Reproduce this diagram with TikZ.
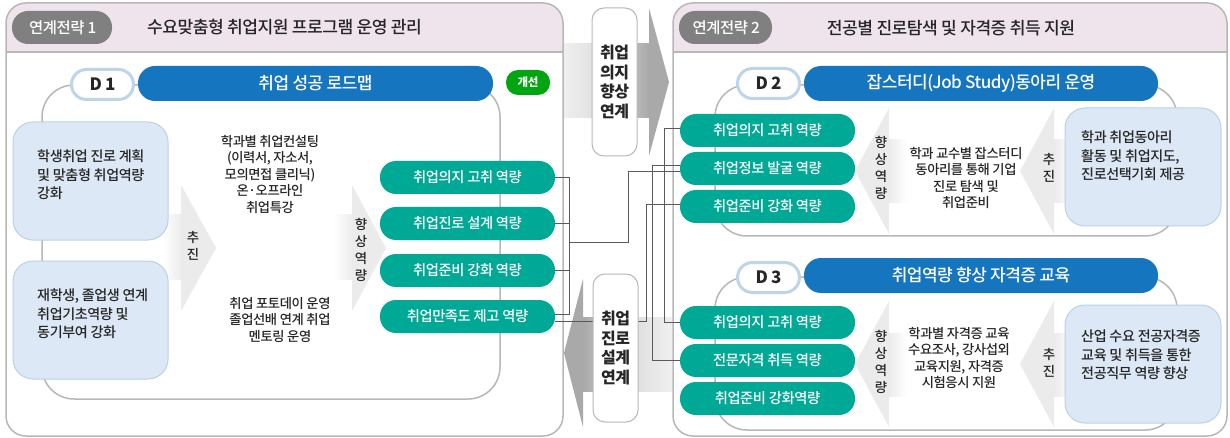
\documentclass[tikz,border=0pt]{standalone}
\usepackage{fontspec}
\setmainfont{Noto Sans CJK KR}[LetterSpace=-3]
\newfontfamily\medf{Noto Sans CJK KR Medium}[LetterSpace=-3]
\definecolor{edge}{HTML}{B7B7B7}
\definecolor{head}{HTML}{EFE4EC}
\definecolor{tag}{HTML}{808080}
\definecolor{blu}{HTML}{1575BE}
\definecolor{grn}{HTML}{00A896}
\definecolor{kwg}{HTML}{00A50F}
\definecolor{pale}{HTML}{DCE8F5}
\definecolor{paleb}{HTML}{B9D2E6}
\definecolor{ring}{HTML}{BCD5EA}
\definecolor{ink}{HTML}{262626}
\definecolor{wire}{HTML}{5A5A5A}
\definecolor{fadeg}{HTML}{EBEBEB}
\definecolor{bigg}{HTML}{A9A9A9}
\tikzset{
 panelbox/.style={draw=edge,line width=1.5pt,rounded corners=20pt},
 frameline/.style={draw=edge,line width=1.5pt,rounded corners=32pt},
 tagpill/.style={fill=tag,text=white,rounded corners=16pt,minimum width=#1,minimum height=33pt,inner sep=0pt,font=\medf\fontsize{15.4}{18}\selectfont},
 titletxt/.style={text=ink,inner sep=0pt,font=\medf\fontsize{17.1}{18}\selectfont},
 dpill/.style={draw=ring,fill=white,line width=3pt,rounded corners=15pt,minimum width=62pt,minimum height=30pt,inner sep=0pt,text=ink,font=\fontsize{17}{18}\selectfont\bfseries},
 bluepill/.style={fill=blu,text=white,rounded corners=17pt,minimum width=#1,minimum height=35pt,inner sep=0pt,font=\medf\fontsize{17}{18}\selectfont},
 grnpill/.style={fill=grn,text=white,rounded corners=16pt,minimum width=175pt,minimum height=33pt,inner sep=0pt,font=\medf\fontsize{14.3}{16}\selectfont},
 palebox/.style={fill=pale,draw=paleb,line width=1pt,rounded corners=20pt,minimum width=155pt,minimum height=118pt,inner sep=0pt},
 boxtxt/.style={text=ink,inner sep=0pt,align=left,anchor=west,font=\medf\fontsize{14.1}{18.5}\selectfont},
 midtxt/.style={text=ink,inner sep=0pt,align=center,font=\medf\fontsize{13.3}{16.5}\selectfont},
 vtxt/.style={text=ink,inner sep=0pt,align=center,font=\medf\fontsize{13.4}{17}\selectfont},
 linkbox/.style={draw=edge,fill=white,line width=1pt,rounded corners=12pt,minimum width=45pt,minimum height=148pt,inner sep=0pt,align=center,text=ink,font=\fontsize{16}{19.7}\selectfont\bfseries},
 conn/.style={draw=wire,line width=1pt},
}
\begin{document}
\begin{tikzpicture}[x=1pt,y=-1pt]
\useasboundingbox (0,0) rectangle (1230,438);
\fill[white] (0,0) rectangle (1230,438);
% panels
\begin{scope}
\clip[rounded corners=20pt] (6,3) rectangle (563,436);
\fill[head] (6,3) rectangle (563,52);
\end{scope}
\begin{scope}
\clip[rounded corners=20pt] (673,3) rectangle (1227,436);
\fill[head] (673,3) rectangle (1227,52);
\end{scope}
% big arrows
\shade[left color=black!6,right color=bigg,middle color=black!14] (563,44) rectangle (649,118);
\fill[bigg] (649,8) -- (669,82) -- (649,156) -- cycle;
\shade[left color=bigg,right color=black!6,middle color=black!14] (583,317) rectangle (672,391);
\fill[bigg] (583,279) -- (564,353) -- (583,427) -- cycle;
\draw[panelbox] (6,3) rectangle (563,436);
\draw[panelbox] (673,3) rectangle (1227,436);
\draw[draw=edge,line width=1.5pt] (6,52) -- (563,52);
\draw[draw=edge,line width=1.5pt] (673,52) -- (1227,52);
% frames
\draw[frameline] (42,85) rectangle (500,399);
\draw[frameline] (715,85) rectangle (1177,236);
\draw[frameline] (715,277) rectangle (1177,430);
% fading arrows left panel
\shade[left color=white,right color=fadeg] (163,215) rectangle (181.5,279);
\fill[fadeg] (181,185) -- (216,248) -- (181,311) -- cycle;
\shade[left color=white,right color=fadeg] (333,215) rectangle (352.5,279);
\fill[fadeg] (352,185) -- (386,248) -- (352,311) -- cycle;
% fading arrows right panel
\shade[left color=fadeg,right color=white] (888,140) rectangle (907,203);
\fill[fadeg] (889,108) -- (855,171) -- (889,234) -- cycle;
\shade[left color=fadeg,right color=white] (1053.5,140) rectangle (1075,203);
\fill[fadeg] (1054,108) -- (1020,171) -- (1054,234) -- cycle;
\shade[left color=fadeg,right color=white] (888,333) rectangle (907,396);
\fill[fadeg] (889,301) -- (855,364) -- (889,427) -- cycle;
\shade[left color=fadeg,right color=white] (1053.5,333) rectangle (1075,396);
\fill[fadeg] (1054,301) -- (1020,364) -- (1054,427) -- cycle;
% header tags
\node[tagpill=100pt] (t1) at (62,27.5) {\hspace{1.5pt}연계전략 1};
\node[tagpill=93pt] (t2) at (725.5,27.5) {\hspace{1.5pt}연계전략 2};
\node[titletxt] (h1) at (284.5,27) {수요맞춤형 취업지원 프로그램 운영 관리};
\node[titletxt] (h2) at (951,28) {전공별 진로탐색 및 자격증 취득 지원};
% D pills
\node[dpill] (d1) at (102.5,84.5) {D\hspace{3pt}1};
\node[dpill] (d2) at (768.5,83.5) {D\hspace{3pt}2};
\node[dpill] (d3) at (768.5,277.5) {D\hspace{3pt}3};
\node[bluepill=355pt] (b1) at (315.5,83.5) {취업 성공 로드맵};
\node[bluepill=354pt] (b2) at (981,83.5) {잡스터디(Job Study)동아리 운영};
\node[bluepill=354pt] (b3) at (981,275.5) {취업역량 향상 자격증 교육};
\node[fill=kwg,text=white,rounded corners=12pt,minimum width=44pt,minimum height=25pt,inner sep=0pt,font=\fontsize{11.5}{14}\selectfont\bfseries] (kw) at (528,82.5) {개선};
% green pills
\node[grnpill] (g1) at (467.5,177.5) {취업의지 고취 역량};
\node[grnpill] (g2) at (467.5,223.5) {취업진로 설계 역량};
\node[grnpill] (g3) at (467.5,270.5) {취업준비 강화 역량};
\node[grnpill] (g4) at (467.5,316.5) {취업만족도 제고 역량};
\node[grnpill] (e1) at (767.5,130.5) {취업의지 고취 역량};
\node[grnpill] (e2) at (767.5,168.5) {취업정보 발굴 역량};
\node[grnpill] (e3) at (767.5,206.5) {취업준비 강화 역량};
\node[grnpill] (f1) at (767.5,322.5) {취업의지 고취 역량};
\node[grnpill] (f2) at (767.5,360.5) {전문자격 취득 역량};
\node[grnpill] (f3) at (767.5,398.5) {취업준비 강화역량};
% connectors
\coordinate (busend) at (569,314.5);
\coordinate (busmid) at (569,242);
\coordinate (riser) at (628,172);
\coordinate (lane1) at (646.7,205);
\coordinate (lane2) at (652,166);
\coordinate (lane3) at (664,129);
\draw[conn] (g1.east) -| (busend);
\draw[conn] (g2.east) -- (g2.east -| busend);
\draw[conn] (g3.east) -- (g3.east -| busend);
\draw[conn] ([yshift=2pt]g4.east) -- (busend);
\draw[conn] (busmid) -| (riser) -- (riser -| e2.west);
\draw[conn] ([yshift=-4.5pt]g4.east) -| (lane1) -- (lane1 -| e3.west);
\draw[conn] (lane2 -| e2.west) -- (lane2) |- (f2.west);
\draw[conn] (lane3 -| e1.west) -- (lane3) |- (f1.west);
% link boxes
\node[linkbox] (l1) at (614.5,82) {취업\\의지\\향상\\연계};
\node[linkbox] (l2) at (615.5,348) {취업\\진로\\설계\\연계};
% pale boxes
\node[palebox] (p1) at (90.5,181) {};
\node[palebox] (p2) at (90.5,320) {};
\node[palebox,minimum width=156pt] (p3) at (1143,167) {};
\node[palebox,minimum width=156pt] (p4) at (1143,364) {};
\node[boxtxt] (pt1) at (37,175) {학생취업 진로 계획\\및 맞춤형 취업역량\\강화};
\node[boxtxt] (pt2) at (37,314) {재학생, 졸업생 연계\\취업기초역량 및\\동기부여 강화};
\node[boxtxt] (pt3) at (1081,156) {학과 취업동아리\\활동 및 취업지도,\\진로선택기회 제공};
\node[boxtxt] (pt4) at (1081,355) {산업 수요 전공자격증\\교육 및 취득을 통한\\전공직무 역량 향상};
% middle text
\node[midtxt] (m1) at (270,174) {학과별 취업컨설팅\\(이력서, 자소서,\\모의면접 클리닉)\\온·오프라인\\취업특강};
\node[midtxt] (m2) at (280,320) {취업 포토데이 운영\\졸업선배 연계 취업\\멘토링 운영};
\node[midtxt] (m3) at (966,178) {학과 교수별 잡스터디\\동아리를 통해 기업\\진로 탐색 및\\취업준비};
\node[midtxt] (m4) at (959,358) {학과별 자격증 교육\\수요조사, 강사섭외\\교육지원, 자격증\\시험응시 지원};
% vertical labels
\node[vtxt] (v1) at (193,246) {추\\진};
\node[vtxt] (v2) at (361,250) {향\\상\\역\\량};
\node[vtxt] (v3) at (881,168) {향\\상\\역\\량};
\node[vtxt] (v4) at (1049,168) {추\\진};
\node[vtxt] (v5) at (881,362) {향\\상\\역\\량};
\node[vtxt] (v6) at (1049,363) {추\\진};
\end{tikzpicture}
\end{document}
